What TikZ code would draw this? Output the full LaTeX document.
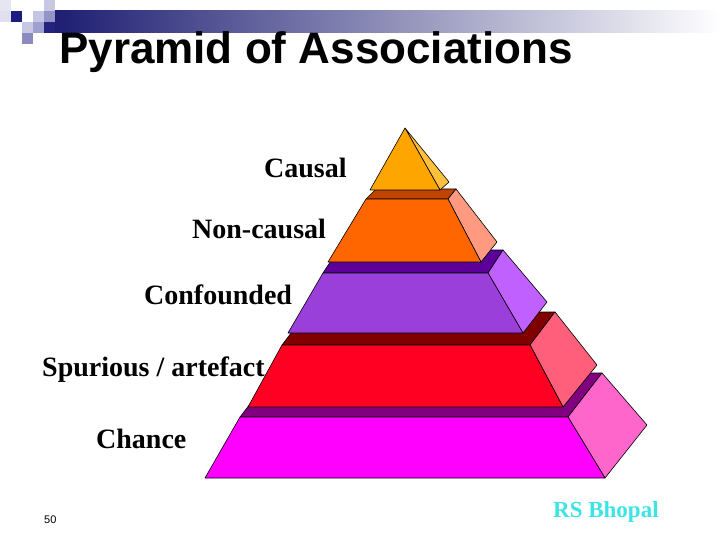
\documentclass[tikz,border=0pt]{standalone}
\usepackage{fontspec}
\setmainfont{Liberation Serif}
\setsansfont{Liberation Sans}
\definecolor{navybar}{RGB}{26,26,112}
\definecolor{midbar}{RGB}{178,178,206}
\definecolor{cfront}{RGB}{255,165,0}
\definecolor{cside}{RGB}{255,192,60}
\definecolor{nfront}{RGB}{255,102,0}
\definecolor{nstrip}{RGB}{190,68,0}
\definecolor{nside}{RGB}{255,153,128}
\definecolor{ofront}{RGB}{155,63,219}
\definecolor{ostrip}{RGB}{92,0,153}
\definecolor{oside}{RGB}{192,96,255}
\definecolor{sfront}{RGB}{255,0,34}
\definecolor{sstrip}{RGB}{128,0,0}
\definecolor{sside}{RGB}{255,95,122}
\definecolor{hfront}{RGB}{255,0,255}
\definecolor{hstrip}{RGB}{128,0,128}
\definecolor{hside}{RGB}{255,102,204}
\definecolor{rscyan}{RGB}{60,228,228}
\begin{document}
\begin{tikzpicture}[x=1pt,y=-1pt,
  face/.style={draw=black,line width=0.6pt,line join=round},
  lbl/.style={anchor=base west,inner sep=0pt,font=\fontsize{28}{30}\selectfont\bfseries},
  sq/.style={inner sep=0pt,minimum size=11pt,anchor=north west}]
\useasboundingbox (0,0) rectangle (720,540);
% header bar and squares
\fill[left color=navybar,middle color=midbar,right color=white] (44,11) rectangle (720,33);
\fill[fill={rgb,255:red,230;green,230;blue,242}] (0,0) rectangle (11,11);
\fill[fill={rgb,255:red,224;green,224;blue,240}] (0,11) rectangle (11,22);
\fill[fill={rgb,255:red,28;green,28;blue,124}] (11,11) rectangle (22,22);
\fill[fill={rgb,255:red,200;green,200;blue,226}] (44,0) rectangle (55,11);
\fill[fill={rgb,255:red,196;green,196;blue,228}] (33,11) rectangle (44,22);
\fill[fill={rgb,255:red,148;green,148;blue,200}] (44,11) rectangle (55,22);
\fill[fill={rgb,255:red,200;green,200;blue,228}] (22,22) rectangle (33,33);
\fill[fill={rgb,255:red,160;green,160;blue,208}] (33,22) rectangle (44,33);
\fill[fill={rgb,255:red,36;green,36;blue,126}] (44,22) rectangle (55,33);
\fill[fill={rgb,255:red,138;green,138;blue,192}] (22,33) rectangle (33,44);
\node[anchor=base west,inner sep=0pt,font=\fontsize{44}{48}\selectfont\sffamily\bfseries] (title) at (59,64) {Pyramid of Associations};
% Chance layer
\path[face,fill=hstrip] (240,417) -- (568,417) -- (602,373) -- (274,373) -- cycle;
\path[face,fill=hside] (568,417) -- (602,373) -- (647,425) -- (605,478) -- cycle;
\path[face,fill=hfront] (240,417) -- (568,417) -- (605,478) -- (205,478) -- cycle;
% Spurious layer
\path[face,fill=sstrip] (282,345) -- (530,345) -- (555,312) -- (307,312) -- cycle;
\path[face,fill=sside] (530,345) -- (555,312) -- (597,365) -- (563,407) -- cycle;
\path[face,fill=sfront] (282,345) -- (530,345) -- (563,407) -- (248,407) -- cycle;
% Confounded layer
\path[face,fill=ostrip] (323,273) -- (488,273) -- (503,250) -- (338,250) -- cycle;
\path[face,fill=oside] (488,273) -- (503,250) -- (547,302) -- (523,333) -- cycle;
\path[face,fill=ofront] (323,273) -- (488,273) -- (523,333) -- (288,333) -- cycle;
% Non-causal layer
\path[face,fill=nstrip] (366,199) -- (448,199) -- (456,189) -- (376,189) -- cycle;
\path[face,fill=nside] (448,199) -- (456,189) -- (497,242) -- (481,262) -- cycle;
\path[face,fill=nfront] (366,199) -- (448,199) -- (481,262) -- (328,262) -- cycle;
% Causal layer
\path[face,fill=cside] (405,128) -- (449,182) -- (440,190) -- cycle;
\path[face,fill=cfront] (405,128) -- (440,190) -- (370,190) -- cycle;
% labels
\node[lbl] (causal) at (264,178) {Causal};
\node[lbl] (noncausal) at (192,238) {Non-causal};
\node[lbl] (confounded) at (144,304) {Confounded};
\node[lbl] (spurious) at (42,376) {Spurious / artefact};
\node[lbl] (chance) at (96,448) {Chance};
\node[anchor=base west,inner sep=0pt,font=\fontsize{11}{13}\selectfont\sffamily] (page) at (44,523) {50};
\node[anchor=base west,inner sep=0pt,text=rscyan,font=\fontsize{23}{26}\selectfont\bfseries] (rs) at (553,517) {RS Bhopal};
\end{tikzpicture}
\end{document}
